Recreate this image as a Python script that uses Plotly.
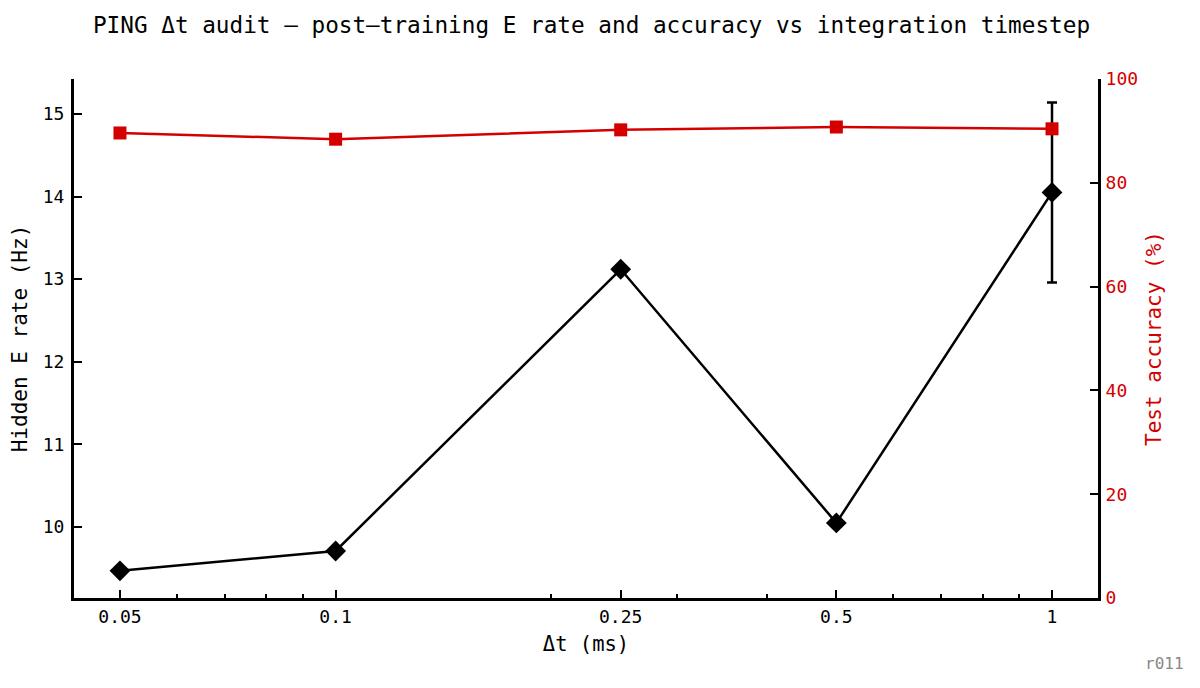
import plotly.graph_objects as go

dt_ms = [0.05, 0.1, 0.25, 0.5, 1.0]
e_rate_hz = [9.47, 9.71, 13.12, 10.05, 14.05]
e_rate_err = [None, None, 0.05, None, 1.09]
accuracy_pct = [89.6, 88.4, 90.2, 90.75, 90.4]

x_tickvals = [0.05, 0.1, 0.25, 0.5, 1.0]
x_ticktext = ["0.05", "0.1", "0.25", "0.5", "1"]
x_minor = [0.06, 0.07, 0.08, 0.09, 0.2, 0.3, 0.4, 0.6, 0.7, 0.8, 0.9]
y_ticks = [10, 11, 12, 13, 14, 15]
y2_ticks = [0, 20, 40, 60, 80, 100]

FONT = "DejaVu Sans Mono"
RED = "#d40000"

fig = go.Figure()
fig.add_trace(go.Scatter(
    x=dt_ms, y=accuracy_pct, yaxis="y2", mode="lines+markers",
    line=dict(color=RED, width=2.5),
    marker=dict(symbol="square", size=13, color=RED),
    showlegend=False))
fig.add_trace(go.Scatter(
    x=dt_ms, y=e_rate_hz, mode="lines+markers",
    line=dict(color="black", width=2.5),
    marker=dict(symbol="diamond", size=16, color="black"),
    error_y=dict(type="data", array=[v if v is not None else float("nan") for v in e_rate_err],
                 visible=True, color="black", thickness=2.5, width=5),
    showlegend=False))

fig.update_layout(
    width=1200, height=688,
    margin=dict(l=74, r=102, t=79, b=90),
    plot_bgcolor="white", paper_bgcolor="white",
    font=dict(family=FONT, size=18, color="black"),
    title=dict(text="PING Δt audit — post–training E rate and accuracy vs integration timestep",
               x=591.5 / 1200, xanchor="center", y=1 - 25 / 688, yanchor="middle",
               font=dict(size=22.7, family=FONT)),
    xaxis=dict(type="log", range=[-1.3652, 0.0642],
               tickvals=x_tickvals, ticktext=x_ticktext,
               ticks="inside", ticklen=8, tickwidth=2, tickcolor="black",
               minor=dict(tickvals=x_minor, ticks="inside", ticklen=4, tickwidth=1.5, tickcolor="black"),
               showline=True, linecolor="black", linewidth=3,
               showgrid=False, zeroline=False,
               title=dict(text="Δt (ms)", font=dict(size=20.5), standoff=12)),
    yaxis=dict(range=[9.141, 15.423], tickvals=y_ticks,
               ticks="inside", ticklen=8, tickwidth=2, tickcolor="black",
               showline=True, linecolor="black", linewidth=3,
               showgrid=False, zeroline=False, ticklabelstandoff=3,
               title=dict(text="Hidden E rate (Hz)", font=dict(size=21), standoff=10)),
    yaxis2=dict(range=[0, 100], tickvals=y2_ticks, overlaying="y", side="right",
                ticks="inside", ticklen=8, tickwidth=2, tickcolor="black",
                tickfont=dict(color=RED),
                showline=True, linecolor="black", linewidth=3,
                showgrid=False, zeroline=False, ticklabelstandoff=1,
                title=dict(text="Test accuracy (%)", font=dict(size=21, color=RED), standoff=10)),
    annotations=[dict(text="r011", xref="paper", yref="paper",
                      x=(1186 - 74) / 1024, y=-(663 - 598) / 519,
                      xanchor="right", yanchor="middle",
                      showarrow=False, font=dict(size=16, color="#888888", family=FONT))],
)

fig.write_html("out.html")
